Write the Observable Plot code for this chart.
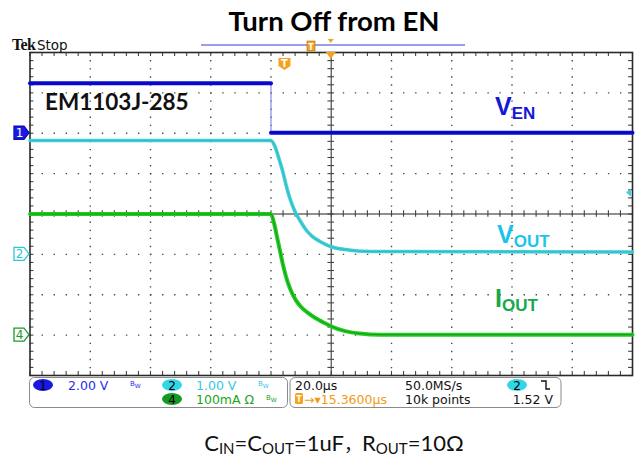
<!DOCTYPE html>
<html><head><meta charset="utf-8">
<script src="https://cdn.jsdelivr.net/npm/d3@7"></script>
<script src="https://cdn.jsdelivr.net/npm/@observablehq/plot@0.6"></script>
<style>
body{margin:0;background:#fff;}
#chart{position:relative;width:635px;height:458px;overflow:hidden;}
</style>
</head><body><div id="chart"></div>
<script>
// ---- data ----
// time in µs relative to trigger
const venTime  = [-84.64, -4.65, -4.65, 115.36];
const venVolts = [2.48, 2.48, 0.03, 0.03];

const voutTime  = [-84.64, -4.65, -3.32, -1.99, -0.66, 0.66, 1.99, 3.32, 4.98, 6.97, 8.96, 11.62, 15.27, 19.92, 28.22, 115.36];
const voutVolts = [2.82, 2.82, 2.67, 2.37, 2.03, 1.63, 1.31, 1.06, 0.84, 0.61, 0.45, 0.32, 0.19, 0.12, 0.07, 0.06];

const ioutTime = [-84.64, -4.65, -3.65, -2.66, -1.66, -0.66, 0.66, 1.99, 3.65, 5.31, 7.30, 9.96, 12.61, 15.93, 19.92, 24.90, 31.54, 115.36];
const ioutMilliamps = [300, 300, 278, 244, 209, 174, 137, 110, 86, 70, 57, 43, 32, 20, 10, 4, 1, 1];

// channel settings
const channelScale = {ven: 2, vout: 1, iout: 100};      // units per division
const channelPosition = {ven: 2, vout: -1, iout: -3};   // divisions
const timePerDiv = 20;        // µs
const triggerOffset = 15.36;  // µs (screen centre)
const triggerLevel = 1.52;    // V on ch2

// ---- scales / grid helpers ----
const xDomain = [triggerOffset - 5 * timePerDiv, triggerOffset + 5 * timePerDiv];
const majorX = d3.range(-4, 5).filter(k => k !== 0).map(k => triggerOffset + k * timePerDiv);
const majorY = d3.range(-3, 4).filter(k => k !== 0);
const minorX = d3.range(-25, 26).map(k => triggerOffset + k * timePerDiv / 5);
const minorY = d3.range(-20, 21).map(k => k / 5);

const ven = venTime.map((t, i) => ({t, d: venVolts[i] / channelScale.ven + channelPosition.ven, seg: i < 2 ? "hi" : "lo"}));
const vout = voutTime.map((t, i) => ({t, d: voutVolts[i] / channelScale.vout + channelPosition.vout}));
const iout = ioutTime.map((t, i) => ({t, d: ioutMilliamps[i] / channelScale.iout + channelPosition.iout}));

const dotStyle = {stroke: "#4a4a4a", strokeWidth: 1.4};
const tickStyle = {stroke: "#444", strokeWidth: 1.1};
const plot = Plot.plot({
  width: 635, height: 458,
  marginLeft: 29.5, marginRight: 3, marginTop: 52, marginBottom: 83,
  x: {domain: xDomain, axis: null},
  y: {domain: [-4, 4], axis: null},
  style: {background: "white", overflow: "visible"},
  marks: [
    Plot.ruleX(majorX, {...dotStyle, strokeDasharray: "1.4 6.675"}),
    Plot.ruleY(majorY, {...dotStyle, strokeDasharray: "1.4 10.65"}),
    Plot.ruleX([triggerOffset], {stroke: "#5a5a5a", strokeWidth: 1.3}),
    Plot.ruleY([0], {stroke: "#6a6a6a", strokeWidth: 1.3}),
    Plot.ruleX(minorX, {y1: -0.08, y2: 0.08, ...tickStyle}),
    Plot.ruleY(minorY, {x1: triggerOffset - 1.1, x2: triggerOffset + 1.1, ...tickStyle}),
    Plot.ruleX(minorX, {y1: 4, y2: 3.9, ...tickStyle}),
    Plot.ruleX(minorX, {y1: -4, y2: -3.9, ...tickStyle}),
    Plot.ruleY(minorY, {x1: xDomain[0], x2: xDomain[0] + 1.3, ...tickStyle}),
    Plot.ruleY(minorY, {x1: xDomain[1] - 1.3, x2: xDomain[1], ...tickStyle}),
    Plot.frame({stroke: "#2a2a2a", strokeWidth: 1.6}),
    // VEN
    Plot.line(ven, {x: "t", y: "d", stroke: "#8a8aee", strokeWidth: 1.2}),
    Plot.line(ven, {x: "t", y: "d", z: "seg", stroke: "#0a0ad8", strokeWidth: 4}),
    Plot.line(ven, {x: "t", y: "d", z: "seg", stroke: "#00008a", strokeWidth: 0.8, strokeOpacity: 0.45}),
    // VOUT
    Plot.line(vout, {x: "t", y: "d", stroke: "#3fd0d8", strokeWidth: 3.6, curve: "monotone-x"}),
    Plot.line(vout, {x: "t", y: "d", stroke: "#1a9aa4", strokeWidth: 0.9, strokeOpacity: 0.45, curve: "monotone-x"}),
    // IOUT
    Plot.line(iout, {x: "t", y: "d", stroke: "#22cc22", strokeWidth: 4, curve: "monotone-x"}),
    Plot.line(iout, {x: "t", y: "d", stroke: "#0b6e0b", strokeWidth: 1, strokeOpacity: 0.55, curve: "monotone-x"})
  ]
});
document.getElementById("chart").append(plot);

// ---- decorations ----
const svg = d3.select(plot).append("g").attr("text-anchor", "start");
const X = v => plot.scale("x").apply(v);
const Y = v => plot.scale("y").apply(v);
const ff = "Lato, 'Open Sans', sans-serif";
const mono = "'DejaVu Sans', sans-serif";

// title
svg.append("text").attr("x", 334).attr("y", 31).attr("text-anchor", "middle")
  .attr("font-family", ff).attr("font-weight", 700).attr("font-size", 27.5).attr("fill", "#000")
  .text("Turn Off from EN");

// Tek Stop
const tek = svg.append("text").attr("x", 12).attr("y", 49.5).attr("fill", "#111");
tek.append("tspan").attr("font-family", "'Liberation Serif', serif").attr("font-weight", 700).attr("font-size", 16).attr("letter-spacing", -0.6).text("Tek");
tek.append("tspan").attr("dx", 1.5).attr("font-family", "'DejaVu Sans', sans-serif").attr("font-size", 13.5).text("Stop");

// record bar
svg.append("line").attr("x1", 201).attr("x2", 465).attr("y1", 45).attr("y2", 45).attr("stroke", "#9c9cf0").attr("stroke-width", 2);
svg.append("rect").attr("x", 307).attr("y", 41).attr("width", 8).attr("height", 10).attr("fill", "#f6a21e").attr("stroke", "#b06a00").attr("stroke-width", 0.6);
svg.append("text").attr("x", 311).attr("y", 49.5).attr("text-anchor", "middle").attr("font-family", mono).attr("font-size", 8).attr("font-weight", 700).attr("fill", "#fff").text("T");
svg.append("path").attr("d", `M${X(triggerOffset) - 3},39 h6 l-3,4 z`).attr("fill", "#f6a21e");
svg.append("path").attr("d", `M${X(triggerOffset) - 5},52 h10 l-5,7 z`).attr("fill", "#f6a21e");

// trigger T marker in plot
const tx = X(0);
svg.append("path").attr("d", `M${tx - 6},58 h12 v8 l-6,4 l-6,-4 z`).attr("fill", "#f6a21e");
svg.append("text").attr("x", tx).attr("y", 66.5).attr("text-anchor", "middle").attr("font-family", mono).attr("font-size", 10).attr("font-weight", 700).attr("fill", "#fff").text("T");

// trigger level arrow (right)
const ty = Y(triggerLevel / channelScale.vout + channelPosition.vout);
svg.append("path").attr("d", `M${626},${ty} l5,-4 v8 z`).attr("fill", "#3fd0e0");

// channel ground markers
function chMarker(y, label, fill, stroke, textFill) {
  svg.append("path").attr("d", `M14,${y - 6.5} h10 l5,6.5 l-5,6.5 h-10 z`)
    .attr("fill", fill).attr("stroke", stroke).attr("stroke-width", 1.3);
  svg.append("text").attr("x", 19.5).attr("y", y + 4.5).attr("text-anchor", "middle")
    .attr("font-family", mono).attr("font-size", 12).attr("fill", textFill).text(label);
}
chMarker(Y(channelPosition.ven), "1", "#1a1ae8", "#1010b0", "#fff");
chMarker(Y(channelPosition.vout), "2", "#fff", "#2cc8d8", "#2cc8d8");
chMarker(Y(channelPosition.iout), "4", "#fff", "#1a9a2a", "#1a9a2a");

// trace labels
svg.append("text").attr("x", 45).attr("y", 110).attr("font-family", ff).attr("font-weight", 700)
  .attr("font-size", 22.5).attr("fill", "#111").text("EM1103J-285");
function subLabel(x, y, main, sub, color) {
  const t = svg.append("text").attr("x", x).attr("y", y).attr("font-family", "'Liberation Sans', Arial, sans-serif")
    .attr("font-weight", 700).attr("fill", color);
  t.append("tspan").attr("font-size", 25).text(main);
  t.append("tspan").attr("font-size", 17).attr("dy", 4).text(sub);
}
subLabel(495, 115, "V", "EN", "#1616d8");
subLabel(497, 243, "V", "OUT", "#1cc4ec");
subLabel(495, 307, "I", "OUT", "#18a84c");

// status boxes
svg.append("rect").attr("x", 29.5).attr("y", 377.5).attr("width", 258).attr("height", 30).attr("rx", 5)
  .attr("fill", "none").attr("stroke", "#8a8a8a").attr("stroke-width", 1);
svg.append("rect").attr("x", 290).attr("y", 377.5).attr("width", 271).attr("height", 30).attr("rx", 5)
  .attr("fill", "none").attr("stroke", "#8a8a8a").attr("stroke-width", 1);
function pill(cx, cy, fill, label) {
  svg.append("ellipse").attr("cx", cx).attr("cy", cy).attr("rx", 10).attr("ry", 6).attr("fill", fill);
  svg.append("text").attr("x", cx).attr("y", cy + 4.5).attr("text-anchor", "middle").attr("font-family", mono)
    .attr("font-size", 12).attr("fill", "#000").text(label);
}
function stxt(x, y, s, color, anchor) {
  svg.append("text").attr("x", x).attr("y", y).attr("font-family", mono).attr("font-size", 12.5)
    .attr("font-weight", 500).attr("fill", color).attr("text-anchor", anchor || "start").text(s);
}
function bw(x, y, color) {
  const t = svg.append("text").attr("x", x).attr("y", y).attr("font-family", mono).attr("fill", color);
  t.append("tspan").attr("font-size", 7).text("B");
  t.append("tspan").attr("font-size", 6).attr("dy", 2).text("W");
}
pill(43, 385, "#1818e0", "1");
stxt(68, 389.5, "2.00 V", "#2c2ce6");
bw(130, 386, "#2c2ce6");
pill(172, 385, "#33d6e6", "2");
stxt(196, 389.5, "1.00 V", "#33c8dd");
bw(258, 386, "#33c8dd");
pill(172, 399, "#149a22", "4");
stxt(196, 403.5, "100mA Ω", "#1aa51a");
bw(266, 400, "#1aa51a");

stxt(295, 389.5, "20.0µs", "#111");
stxt(405, 389.5, "50.0MS/s", "#111");
pill(517, 385, "#33d6e6", "2");
svg.append("path").attr("d", "M541,381 H546 V389 H550").attr("fill", "none").attr("stroke", "#111").attr("stroke-width", 1.4);
svg.append("rect").attr("x", 295).attr("y", 393).attr("width", 8).attr("height", 11).attr("rx", 1.5).attr("fill", "#f6a21e");
svg.append("text").attr("x", 299).attr("y", 402).attr("text-anchor", "middle").attr("font-family", mono).attr("font-size", 8).attr("font-weight", 700).attr("fill", "#fff").text("T");
stxt(304, 403.5, "→▾15.3600µs", "#f29a16");
stxt(405, 403.5, "10k points", "#111");
stxt(553, 403.5, "1.52 V", "#111", "end");

// caption
const cap = svg.append("text").attr("x", 334).attr("y", 451).attr("text-anchor", "middle")
  .attr("font-family", ff).attr("font-size", 22).attr("fill", "#111");
const parts = [["C", 0], ["IN", 1], ["=C", 0], ["OUT", 1], ["=1uF", 0], ["，", 0], ["R", 0], ["OUT", 1], ["=10Ω", 0]];
let sub = 0;
parts.forEach(([s, isSub]) => {
  const ts = cap.append("tspan").text(s);
  if (isSub) { ts.attr("font-size", 15).attr("dy", sub ? 0 : 3); sub = 1; }
  else { if (sub) ts.attr("dy", -3); sub = 0; }
  if (s === "，") ts.attr("font-family", "'Noto Sans CJK SC', sans-serif").attr("font-size", 18);
});
</script>
</body></html>
